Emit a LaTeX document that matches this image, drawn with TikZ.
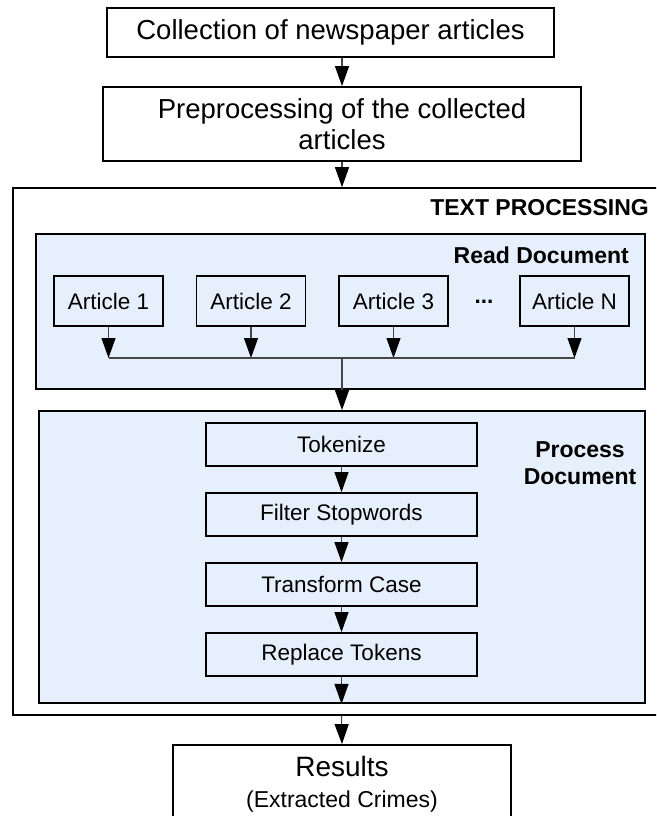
\documentclass[tikz,border=0pt]{standalone}
\usepackage{fontspec}
\setmainfont{Liberation Sans}
\usetikzlibrary{arrows.meta,calc}
\definecolor{panelblue}{RGB}{230,240,252}
\definecolor{wire}{RGB}{70,70,70}

\begin{document}
\begin{tikzpicture}[x=1pt,y=-1pt,
  box/.style={draw=black,line width=1.8pt,inner sep=0pt,align=center},
  bigtext/.style={font=\fontsize{27.5}{31}\selectfont},
  smalltext/.style={font=\fontsize{22.5}{27}\selectfont},
  headtext/.style={font=\fontsize{23}{27}\selectfont\bfseries,align=center,inner sep=0pt},
  panel/.style={draw=black,line width=1.8pt,fill=panelblue,inner sep=0pt},
  stepbox/.style={box,fill=panelblue,smalltext,minimum width=271pt,minimum height=43pt},
  article/.style={box,fill=panelblue,smalltext,minimum width=109pt,minimum height=50pt},
  flow/.style={draw=wire,line width=1.1pt,-{Triangle[length=20pt,width=14pt,color=black]}},
  wireline/.style={draw=wire,line width=1.1pt}]

\useasboundingbox (0,0) rectangle (656,816);
\clip (0,0) rectangle (656,816);

% top stages
\node[box,bigtext,minimum width=447pt,minimum height=49pt] (collect) at (330.5,32.5)
  {Collection of newspaper articles};
\node[box,bigtext,minimum width=478pt,minimum height=74pt] (prep) at (342,124)
  {Preprocessing of the collected\\articles};

% text processing frame (runs past the right edge)
\node[draw=black,line width=1.6pt,inner sep=0pt,minimum width=657pt,minimum height=527pt]
  (frame) at (341.5,451.5) {};
\node[headtext,anchor=east] (frametitle) at (649,208) {TEXT PROCESSING};

% read document panel
\node[panel,minimum width=609pt,minimum height=155pt] (read) at (340.5,311.5) {};
\node[headtext,anchor=east] (readtitle) at (629,255) {Read Document};
\node[article] (a1) at (108.5,301) {Article 1};
\node[article] (a2) at (251,301) {Article 2};
\node[article] (a3) at (393.5,301) {Article 3};
\node[font=\fontsize{22.5}{27}\selectfont\bfseries] (dots) at (484,302) {...};
\node[article] (aN) at (574.5,301) {Article N};

% process document panel
\node[panel,minimum width=606pt,minimum height=292pt] (proc) at (342,557) {};
\node[headtext] (proctitle) at (580,463.5) {Process\\Document};
\node[stepbox] (tok) at (341.5,444.5) {Tokenize};
\node[stepbox] (filt) at (341.5,514.5) {Filter Stopwords};
\node[stepbox] (trans) at (341.5,584.5) {Transform Case};
\node[stepbox] (repl) at (341.5,654.5) {Replace Tokens};

% results
\node[box,font=\fontsize{28}{31}\selectfont,minimum width=338pt,minimum height=78pt]
  (res) at (342,784)
  {Results\\{\fontsize{23}{27}\selectfont (Extracted Crimes)}};

% connectors
\coordinate (bus) at (342,358);
\draw[flow] (prep.north |- collect.south) -- (prep.north);
\draw[flow] (prep.south) -- (prep.south |- frame.north);
\foreach \a in {a1,a2,a3,aN}
  \draw[flow] (\a.south) -- (\a.south |- bus);
\draw[wireline] (a1.south |- bus) -- (aN.south |- bus);
\draw[flow] (bus) -- (bus |- proc.north);
\draw[flow] (tok.south) -- (filt.north);
\draw[flow] (filt.south) -- (trans.north);
\draw[flow] (trans.south) -- (repl.north);
\draw[flow] (repl.south) -- (repl.south |- proc.south);
\draw[flow] (repl.south |- frame.south) -- (res.north);
\end{tikzpicture}
\end{document}
